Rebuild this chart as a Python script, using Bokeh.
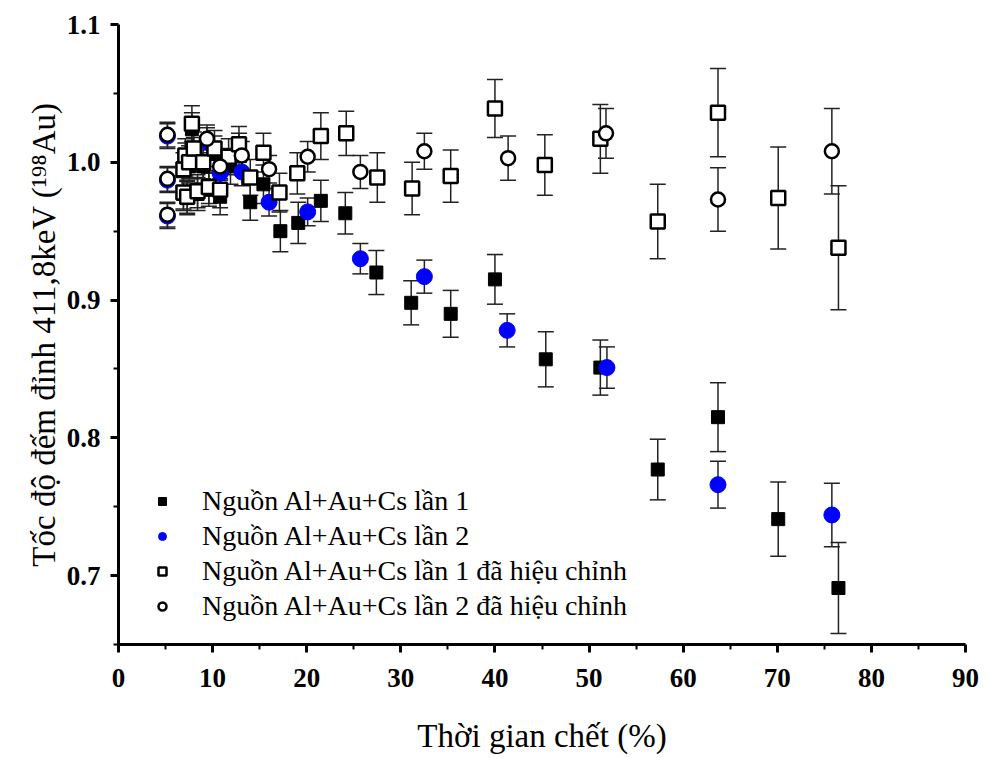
from bokeh.plotting import figure
from bokeh.models import (ColumnDataSource, Whisker, TeeHead, Range1d, FixedTicker,
                          PrintfTickFormatter, Legend, LegendItem)
from bokeh.embed import file_html
from bokeh.resources import INLINE

# ---- data ----
# Series 1: Nguồn Al+Au+Cs lần 1 (filled squares)
s1_x = [6.9, 7.1, 7.3, 7.5, 7.8, 8.0, 8.4, 9.0, 9.6, 10.2, 10.8, 11.9, 12.8, 14.0, 15.4,
        17.2, 19.1, 21.5, 24.1, 27.4, 31.1, 35.3, 40.0, 45.4, 51.2, 57.3, 63.7, 70.1, 76.5]
s1_y = [0.977, 1.002, 0.974, 0.997, 1.024, 1.006, 0.977, 0.997, 0.980, 1.006, 0.975, 0.997,
        1.008, 0.971, 0.984, 0.950, 0.956, 0.972, 0.963, 0.920, 0.898, 0.890, 0.915, 0.857,
        0.851, 0.777, 0.815, 0.741, 0.691]
s1_err = [0.012, 0.012, 0.012, 0.012, 0.012, 0.012, 0.012, 0.012, 0.012, 0.013, 0.013, 0.013,
          0.013, 0.013, 0.014, 0.015, 0.015, 0.015, 0.015, 0.016, 0.016, 0.017, 0.018, 0.020,
          0.020, 0.022, 0.025, 0.027, 0.033]

# Series 2: Nguồn Al+Au+Cs lần 2 (blue filled circles)
s2_x = [5.2, 5.2, 5.2, 9.4, 10.8, 13.1, 16.0, 20.1, 25.7, 32.5, 41.3, 51.9, 63.7, 75.8]
s2_y = [1.019, 0.987, 0.961, 1.015, 0.992, 0.993, 0.971, 0.964, 0.930, 0.917, 0.878, 0.851,
        0.766, 0.744]
s2_err = [0.009, 0.009, 0.009, 0.010, 0.010, 0.010, 0.010, 0.010, 0.011, 0.012, 0.012, 0.015,
          0.017, 0.023]

# Series 3: Nguồn Al+Au+Cs lần 1 đã hiệu chỉnh (open squares)
s3_x = [6.9, 6.9, 7.1, 7.3, 7.5, 7.8, 8.0, 8.4, 9.0, 9.6, 10.2, 10.8, 11.7, 12.8, 14.0, 15.4,
        17.1, 19.0, 21.5, 24.2, 27.5, 31.2, 35.3, 40.0, 45.3, 51.2, 57.3, 63.7, 70.1, 76.5]
s3_y = [0.995, 0.978, 1.005, 0.975, 1.000, 1.028, 1.010, 0.979, 1.000, 0.982, 1.010, 0.980,
        1.004, 1.013, 0.989, 1.007, 0.978, 0.992, 1.019, 1.021, 0.989, 0.981, 0.990, 1.039,
        0.998, 1.017, 0.957, 1.036, 0.974, 0.938]
s3_err = [0.012, 0.012, 0.012, 0.012, 0.012, 0.013, 0.012, 0.012, 0.012, 0.012, 0.013, 0.013,
          0.013, 0.013, 0.013, 0.014, 0.014, 0.015, 0.017, 0.016, 0.018, 0.019, 0.019, 0.021,
          0.022, 0.025, 0.027, 0.032, 0.037, 0.045]

# Series 4: Nguồn Al+Au+Cs lần 2 đã hiệu chỉnh (open circles)
s4_x = [5.2, 5.2, 5.2, 9.4, 10.8, 13.1, 16.0, 20.1, 25.7, 32.5, 41.4, 51.8, 63.7, 75.8]
s4_y = [1.020, 0.988, 0.962, 1.017, 0.997, 1.005, 0.995, 1.004, 0.993, 1.008, 1.003, 1.021,
        0.973, 1.008]
s4_err = [0.009, 0.009, 0.009, 0.010, 0.010, 0.010, 0.010, 0.011, 0.012, 0.013, 0.016, 0.018,
          0.023, 0.031]

labels = ["Nguồn Al+Au+Cs lần 1",
          "Nguồn Al+Au+Cs lần 2",
          "Nguồn Al+Au+Cs lần 1 đã hiệu chỉnh",
          "Nguồn Al+Au+Cs lần 2 đã hiệu chỉnh"]

x_ticks = [0, 10, 20, 30, 40, 50, 60, 70, 80, 90]
x_minor = [5, 15, 25, 35, 45, 55, 65, 75, 85]
y_ticks = [0.7, 0.8, 0.9, 1.0, 1.1]
y_minor = [0.65, 0.75, 0.85, 0.95, 1.05]

x_title = "Thời gian chết (%)"
y_title = "Tốc độ đếm đỉnh 411,8keV (¹⁹⁸Au)"

SERIF = "Liberation Serif"

p = figure(width=985, height=756, output_backend="svg", toolbar_location=None,
           x_range=Range1d(0, 90), y_range=Range1d(0.65, 1.1),
           min_border_left=118, min_border_right=20, min_border_top=24, min_border_bottom=109)
p.outline_line_color = None
p.xgrid.visible = False
p.ygrid.visible = False
p.background_fill_color = "white"

def src(xs, ys, es):
    return ColumnDataSource(dict(x=xs, y=ys,
                                 lo=[a - b for a, b in zip(ys, es)],
                                 hi=[a + b for a, b in zip(ys, es)]))

sources = [src(s1_x, s1_y, s1_err), src(s2_x, s2_y, s2_err),
           src(s3_x, s3_y, s3_err), src(s4_x, s4_y, s4_err)]

for s in sources:
    w = Whisker(source=s, base="x", lower="lo", upper="hi",
                line_color="#222222", line_width=1.5,
                upper_head=TeeHead(size=16, line_color="#222222", line_width=1.5),
                lower_head=TeeHead(size=16, line_color="#222222", line_width=1.5))
    p.add_layout(w)

r1 = p.scatter("x", "y", source=sources[0], marker="square", size=13,
               fill_color="black", line_color="black", line_width=1)
r2 = p.scatter("x", "y", source=sources[1], marker="circle", size=16,
               fill_color="#0000FF", line_color="#0000FF", line_width=1)
r3 = p.scatter("x", "y", source=sources[2], marker="square", size=14,
               fill_color="white", line_color="black", line_width=2.5)
r4 = p.scatter("x", "y", source=sources[3], marker="circle", size=14,
               fill_color="white", line_color="black", line_width=2.5)

legend = Legend(items=[LegendItem(label=labels[0], renderers=[r1]),
                       LegendItem(label=labels[1], renderers=[r2]),
                       LegendItem(label=labels[2], renderers=[r3]),
                       LegendItem(label=labels[3], renderers=[r4])],
                location=(34, 22), border_line_color=None, background_fill_alpha=0,
                label_text_font=SERIF, label_text_font_size="28px",
                label_text_color="black", glyph_width=20, glyph_height=26,
                label_height=26, spacing=3, label_standoff=30, padding=4)
p.add_layout(legend)

for ax in (p.xaxis[0], p.yaxis[0]):
    ax.axis_line_width = 3
    ax.axis_line_color = "black"
    ax.major_tick_line_width = 3
    ax.minor_tick_line_width = 2
    ax.major_tick_line_color = "black"
    ax.minor_tick_line_color = "black"
    ax.major_tick_out = 8
    ax.major_tick_in = 0
    ax.minor_tick_out = 5
    ax.minor_tick_in = 0
    ax.major_label_text_font = SERIF
    ax.major_label_text_font_style = "bold"
    ax.major_label_text_font_size = "27px"
    ax.major_label_text_color = "black"
    ax.axis_label_text_font = SERIF
    ax.axis_label_text_font_style = "normal"
    ax.axis_label_text_font_size = "33px"
    ax.axis_label_text_color = "black"

p.xaxis[0].ticker = FixedTicker(ticks=x_ticks, minor_ticks=x_minor)
p.yaxis[0].ticker = FixedTicker(ticks=y_ticks, minor_ticks=y_minor)
p.yaxis[0].formatter = PrintfTickFormatter(format="%.1f")
p.xaxis[0].axis_label = x_title
p.yaxis[0].axis_label = y_title
p.xaxis[0].major_label_standoff = 16
p.xaxis[0].axis_label_standoff = 28
p.yaxis[0].major_label_standoff = 10
p.yaxis[0].axis_label_standoff = 2

open("out.html", "w").write(file_html(p, INLINE))
